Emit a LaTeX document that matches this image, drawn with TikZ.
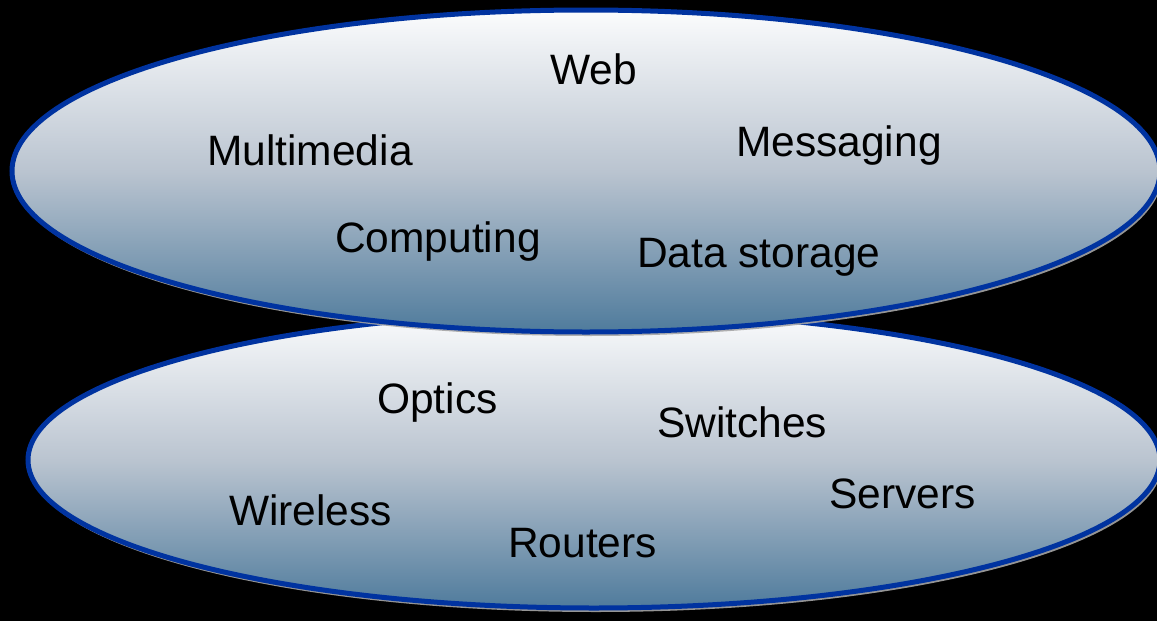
\documentclass[tikz,border=0pt]{standalone}
\usepackage{fontspec}
\setmainfont{Liberation Sans}
\usepackage{tikz}
\usetikzlibrary{shapes,shadows,positioning}

\definecolor{rimblue}{HTML}{0033A0}
\definecolor{shadetop}{HTML}{FBFCFD}
\definecolor{shademid}{HTML}{BAC4D0}
\definecolor{shadebot}{HTML}{4F7B9C}

\begin{document}
\begin{tikzpicture}[x=1pt, y=-1pt]
    % Styles
    \tikzstyle{layer} = [draw=rimblue, line width=5pt, ellipse, inner sep=0pt,
        top color=shadetop, bottom color=shadebot, middle color=shademid,
        drop shadow={shadow xshift=2pt, shadow yshift=-4pt, fill=gray!70, opacity=0.9}]
    \tikzstyle{word} = [anchor=base west, inner sep=0pt, font=\fontsize{42.5}{50}\selectfont]

    % Black page
    \fill[black] (0,0) rectangle (1157,621);
    \useasboundingbox (0,0) rectangle (1157,621);
    \clip (0,0) rectangle (1157,621);

    % Lower layer (infrastructure)
    \node[layer, minimum width=1132pt, minimum height=296pt] (infra) at (594,460) {};
    % Upper layer (services)
    \node[layer, minimum width=1148pt, minimum height=322pt] (services) at (586,171) {};

    % Upper labels
    \node[word] (web) at (550,84) {Web};
    \node[word] (multimedia) at (207,165) {Multimedia};
    \node[word] (messaging) at (736,156) {Messaging};
    \node[word] (computing) at (335,252) {Computing};
    \node[word] (storage) at (637,267) {Data storage};

    % Lower labels
    \node[word] (optics) at (377,413) {Optics};
    \node[word] (switches) at (657,437) {Switches};
    \node[word] (wireless) at (229,525) {Wireless};
    \node[word] (routers) at (508,557) {Routers};
    \node[word] (servers) at (829,508) {Servers};
\end{tikzpicture}
\end{document}
